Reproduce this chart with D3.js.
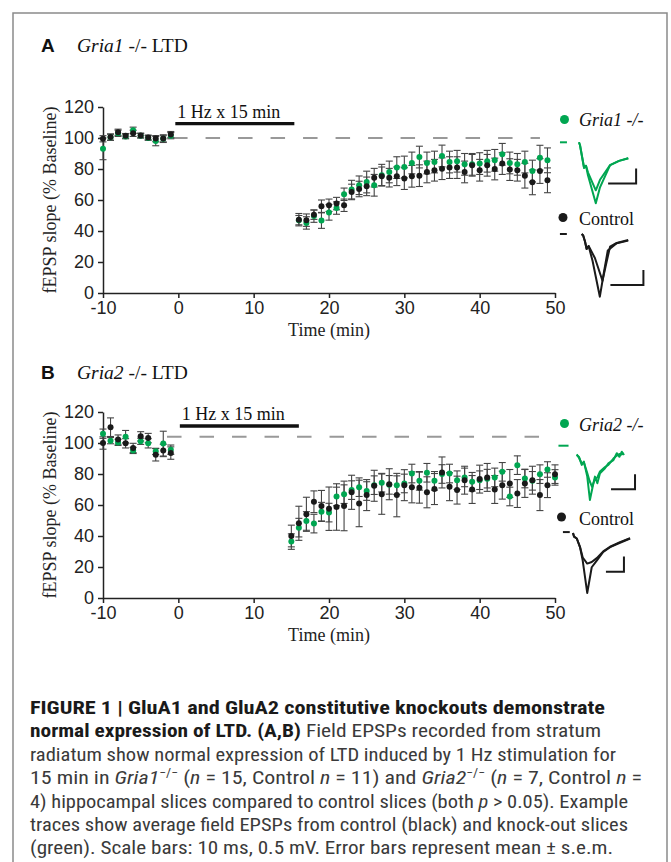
<!DOCTYPE html>
<html>
<head>
<meta charset="utf-8">
<script src="https://cdn.jsdelivr.net/npm/d3@7"></script>
<style>
body { margin: 0; background: #fff; }
svg { display: block; }
</style>
</head>
<body>
<svg id="fig" width="671" height="862"></svg>
<script>

// *** Data ***

var timesBase = [-10, -9, -8, -7, -6, -5, -4, -3, -2, -1];

// panel A (Gria1 -/-)
var ctrlBaseA = [99.5, 100.6, 103.7, 101.4, 103, 101.6, 100.4, 99.6, 99.6, 102.2];
var ctrlBaseSemA = [2, 2, 2, 1.5, 2, 1.5, 1.5, 2, 2.5, 2];
var koBaseA = [93, 100.5, 103, 101, 105, 101.5, 100, 98, 99.5, 101.5];
var koBaseSemA = [7, 2, 2, 1.5, 2, 1.5, 1.5, 3, 2, 2];

var timesPostA = [16, 17, 18, 19, 20, 21, 22, 23, 24, 25, 26, 27, 28, 29, 30, 31, 32,
                  33, 34, 35, 36, 37, 38, 39, 40, 41, 42, 43, 44, 45, 46, 47, 48, 49];
var ctrlPostA = [47.3, 47, 50.5, 56, 56.6, 57.7, 56.6, 65.2, 67.1, 68.8, 74.4, 75.3, 74.4, 75.3, 73.8, 75.3, 75.7,
                 78.1, 79.2, 80.2, 80.9, 80.9, 78.1, 82.4, 79.2, 82.4, 80, 83.5, 79.6, 79.2, 75.7, 71.4, 78.7, 72.7];
var ctrlPostSemA = [4, 4, 3, 4, 4, 4, 4, 5, 5, 6, 6, 6, 6, 6, 7, 7, 7,
                    7, 7, 7, 7, 7, 7, 7, 7, 7, 7, 7, 7, 7, 8, 8, 8, 8];
var koPostA = [47, 45.2, 49.6, 46.7, 52, 54.8, 63.7, 66.7, 69.5, 71.6, 69.5, 76, 78.1, 80.9, 81.3, 83.9, 87.7,
               83.9, 84.5, 88.4, 84.5, 85, 83, 83, 83.5, 85, 85.6, 89.5, 83.9, 83, 84.5, 78.7, 87.3, 85.6];
var koPostSemA = [3, 4, 4, 5, 5, 4, 4, 6, 6, 7, 7, 7, 7, 7, 7, 7, 7,
                  7, 7, 7, 7, 7, 7, 7, 7, 7, 7, 7, 7, 7, 7, 7, 8, 8];

// panel B (Gria2 -/-)
var ctrlBaseB = [100, 110.2, 102.2, 99.8, 96.8, 104.3, 103.2, 92.4, 95.2, 93.5];
var ctrlBaseSemB = [4, 6, 3, 3, 3, 3, 3, 4, 4, 4];
var koBaseB = [106, 101.5, 100.4, 104.1, 95.2, 101.1, 99.8, 94.6, 99.6, 95.7];
var koBaseSemB = [3, 2, 2, 4, 2, 2, 3, 2, 8, 3];

var timesPostB = [15, 16, 17, 18, 19, 20, 21, 22, 23, 24, 25, 26, 27, 28, 29, 30, 31, 32,
                  33, 34, 35, 36, 37, 38, 39, 40, 41, 42, 43, 44, 45, 46, 47, 48, 49, 50];
var ctrlPostB = [40, 48.2, 54, 62.1, 59.4, 57.6, 58.7, 59.4, 68.2, 61, 66.4, 72.4, 67, 73.4, 66.4, 72.8, 71.4, 71.2,
                 68.2, 70.3, 81, 71.8, 69.6, 76, 70, 76.7, 77.8, 70, 72.8, 73.9, 67.4, 73.9, 76, 66.4, 72.8, 79.9];
var ctrlPostSemB = [7, 11, 11, 7, 10, 14, 15, 16, 11, 15, 10, 10, 13, 10, 14, 10, 10, 10,
                    10, 10, 10, 9, 9, 9, 9, 9, 9, 9, 9, 9, 9, 9, 9, 10, 8, 6];
var koPostB = [36.4, 45.4, 49.7, 48, 55.7, 55.1, 65.5, 67, 69.6, 71.5, 69, 72.8, 74.4, 73, 72.8, 73.9, 80.3, 75.6,
               80.8, 75.6, 80, 80.3, 76, 77.8, 75, 76, 77, 77.8, 81.4, 65.5, 85.7, 77.1, 75.6, 79.9, 82.9, 77.8];
var koPostSemB = [5, 6, 6, 6, 6, 6, 6, 6, 6, 6, 6, 6, 6, 6, 6, 6, 6, 6,
                  6, 6, 6, 6, 6, 6, 6, 6, 6, 6, 6, 6, 6, 6, 6, 6, 5, 5];

var xTicks = [-10, 0, 10, 20, 30, 40, 50];
var yTicks = [0, 20, 40, 60, 80, 100, 120];

// stimulation bar (min) and baseline reference line (%)
var stimA = [-0.4, 15.4], stimB = [0.2, 16.0];
var refLineA = 100, refLineB = 104;
var refSpanA = [-0.7, 48], refSpanB = [-1.5, 48];

// example traces [ms, mV]
var gria1TracePre = [[0,0],[0.36,-0.1],[1.8,-0.85],[2.5,-0.78],[3.2,-1.1],[6.0,-2.03],[7.5,-1.5],[11.1,-0.76],[14.3,-0.62],[17.6,-0.53]];
var gria1TracePost = [[0,0],[0.36,-0.1],[1.8,-0.85],[2.5,-0.78],[3.2,-1.0],[6.0,-1.6],[7.5,-1.25],[11.1,-0.76],[14.3,-0.62],[17.6,-0.53]];
var ctrlATracePre = [[0,0],[0.45,-0.05],[1.0,-0.25],[1.5,-0.5],[2.1,-0.4],[3.3,-0.9],[5.5,-2.09],[6.7,-1.3],[7.9,-0.55],[10.6,-0.31],[14.1,-0.22]];
var ctrlATracePost = [[0,0],[0.45,-0.05],[1.0,-0.25],[1.5,-0.5],[2.1,-0.4],[4.0,-0.8],[6.3,-1.56],[7.4,-1.0],[8.6,-0.42],[10.6,-0.3],[14.1,-0.2]];
var gria2TracePre = [[0,0],[1,-0.07],[2.1,-0.33],[3,-0.22],[4.4,-0.72],[5.5,-1.5],[6.8,-1.0],[7.6,-0.72],[8.6,-0.94],[9.7,-0.61],
                     [11.8,-0.44],[13.2,-0.28],[15.3,-0.17],[16.7,0.06],[17.8,-0.06],[18.8,0.11],[19.7,0]];
var gria2TracePost = [[0,0.02],[1,-0.1],[2.1,-0.28],[3,-0.25],[4.4,-0.6],[5.3,-0.85],[6.4,-1.06],[7.6,-0.8],[8.6,-0.75],[9.7,-0.55],
                      [11.8,-0.4],[13.2,-0.33],[15.3,-0.12],[16.7,-0.02],[17.8,0.03],[18.8,0.02],[19.7,0.05]];
var ctrlBTracePre = [[0,0],[0.6,-0.12],[2.1,-0.18],[3.9,-0.46],[5.4,-0.9],[7.9,-1.96],[10.4,-1.12],[13.2,-0.9],[16.8,-0.62],[20.6,-0.46],[26.1,-0.32],[31.7,-0.18]];
var ctrlBTracePost = [[0,0],[0.6,-0.12],[2.1,-0.18],[3.9,-0.46],[5.4,-0.8],[7.9,-1.0],[10.4,-0.95],[13.2,-0.82],[16.8,-0.6],[20.6,-0.45],[26.1,-0.3],[31.7,-0.17]];

// *** Styles ***

var GREEN = "#00a651";
var BLACK = "#1a1a1a";
var SANS = "'Liberation Sans', Arial, sans-serif";
var SERIF = "'Liberation Serif', 'Times New Roman', serif";

var svg = d3.select("#fig");

svg.append("rect").attr("width", 671).attr("height", 862).attr("fill", "#fff");
svg.append("rect")
    .attr("x", 13).attr("y", 13).attr("width", 654).attr("height", 900)
    .attr("fill", "none").attr("stroke", "#8a8a8a").attr("stroke-width", 1.5);

// *** Helpers ***

function make_points(times, values, sems) {
  return times.map(function (t, i) { return {t: t, v: values[i], s: sems[i]}; });
}

function draw_errorbars(g, x, y, pts) {
  var eb = g.append("g").attr("stroke", "#444").attr("stroke-width", 1.1);
  pts.forEach(function (d) {
    var cx = x(d.t);
    eb.append("line").attr("x1", cx).attr("x2", cx).attr("y1", y(d.v - d.s)).attr("y2", y(d.v + d.s));
    eb.append("line").attr("x1", cx - 3.5).attr("x2", cx + 3.5).attr("y1", y(d.v - d.s)).attr("y2", y(d.v - d.s));
    eb.append("line").attr("x1", cx - 3.5).attr("x2", cx + 3.5).attr("y1", y(d.v + d.s)).attr("y2", y(d.v + d.s));
  });
}

function draw_dots(g, x, y, pts, color) {
  g.append("g").selectAll("circle").data(pts).enter().append("circle")
      .attr("cx", d => x(d.t)).attr("cy", d => y(d.v))
      .attr("r", 3).attr("fill", color);
}

function draw_inset(g, inset) {
  var tx = d3.scaleLinear().domain([0, 10]).range([inset.x0, inset.x0 + 10 * inset.pxPerMs]);
  var ty = d3.scaleLinear().domain([0, -1]).range([inset.y0, inset.y0 + inset.pxPerMv]);
  var line = d3.line().x(d => tx(d[0])).y(d => ty(d[1]));
  [inset.pre, inset.post].forEach(function (tr) {
    g.append("path").attr("d", line(tr)).attr("fill", "none")
        .attr("stroke", inset.color).attr("stroke-width", 2).attr("stroke-linejoin", "round");
  });
  // stimulus artifact stub
  g.append("path").attr("d", line(inset.stub)).attr("stroke", inset.color).attr("stroke-width", 2);
  // scale bar: 10 ms, 0.5 mV
  var c = inset.bar;
  g.append("path")
      .attr("d", line([[c[0] - 10, c[1]], [c[0], c[1]], [c[0], c[1] + 0.5]]))
      .attr("fill", "none").attr("stroke", BLACK).attr("stroke-width", 2);
}

// *** Panel ***

function draw_panel(p) {
  var g = svg.append("g");
  var x = d3.scaleLinear().domain([-10, 50]).range([103, 555]);
  var y = d3.scaleLinear().domain([0, 120]).range([p.axisY, p.axisY - 186]);

  // title
  var title = g.append("text").attr("y", p.titleY).attr("font-size", 19.5).attr("fill", "#111");
  title.append("tspan").attr("x", 41).attr("font-family", SANS).attr("font-weight", "bold").attr("font-size", 19).text(p.letter);
  title.append("tspan").attr("x", 77).attr("font-family", SERIF).attr("font-style", "italic").text(p.gene);
  title.append("tspan").attr("font-family", SERIF).text(" -/- LTD");

  // axes
  var yAxis = d3.axisLeft(y).tickValues(yTicks).tickSize(5).tickSizeOuter(0).tickPadding(4).tickFormat(d => String(d));
  var xAxis = d3.axisBottom(x).tickValues(xTicks).tickSize(5).tickSizeOuter(0).tickPadding(3).tickFormat(d => String(d));
  var ya = g.append("g").attr("transform", "translate(" + x(-10) + ",0)").call(yAxis);
  var xa = g.append("g").attr("transform", "translate(0," + p.axisY + ")").call(xAxis);
  [ya, xa].forEach(function (a) {
    a.selectAll("path, line").attr("stroke", "#222").attr("stroke-width", 1.5);
    a.selectAll("text").attr("font-family", SANS).attr("font-size", 18).attr("fill", "#222");
  });

  g.append("text")
      .attr("transform", "translate(56," + ((y(0) + y(120)) / 2) + ") rotate(-90)")
      .attr("text-anchor", "middle").attr("font-family", SERIF).attr("font-size", 18).attr("fill", "#222")
      .text("fEPSP slope (% Baseline)");
  g.append("text")
      .attr("x", x(20)).attr("y", p.axisY + 43)
      .attr("text-anchor", "middle").attr("font-family", SERIF).attr("font-size", 18).attr("fill", "#222")
      .text("Time (min)");

  // baseline reference + stim bar
  g.append("line")
      .attr("x1", x(p.refSpan[0])).attr("x2", x(p.refSpan[1]))
      .attr("y1", y(p.ref)).attr("y2", y(p.ref))
      .attr("stroke", "#999").attr("stroke-width", 2).attr("stroke-dasharray", "14.5,18");
  var barY = y(p.stimLevel);
  g.append("line")
      .attr("x1", x(p.stim[0])).attr("x2", x(p.stim[1]))
      .attr("y1", barY).attr("y2", barY)
      .attr("stroke", "#111").attr("stroke-width", 3.4);
  g.append("text")
      .attr("x", x(p.stim[0]) + 2).attr("y", barY - 6)
      .attr("font-family", SERIF).attr("font-size", 18).attr("fill", "#111")
      .text("1 Hz x 15 min");

  // data
  var ctrl = make_points(timesBase, p.ctrlBase, p.ctrlBaseSem).concat(make_points(p.timesPost, p.ctrlPost, p.ctrlPostSem));
  var ko = make_points(timesBase, p.koBase, p.koBaseSem).concat(make_points(p.timesPost, p.koPost, p.koPostSem));
  draw_errorbars(g, x, y, ko);
  draw_errorbars(g, x, y, ctrl);
  draw_dots(g, x, y, ko, GREEN);
  draw_dots(g, x, y, ctrl, BLACK);

  // legend
  p.legend.forEach(function (l) {
    g.append("circle").attr("cx", l.cx).attr("cy", l.cy).attr("r", 4.5).attr("fill", l.color);
    g.append("text").attr("x", 579).attr("y", l.ty)
        .attr("font-family", SERIF).attr("font-size", 18).attr("fill", "#111")
        .attr("font-style", l.italic ? "italic" : "normal")
        .text(l.label);
  });

  p.insets.forEach(function (inset) { draw_inset(g, inset); });
}

draw_panel({
  letter: "A", gene: "Gria1", titleY: 52, axisY: 293,
  ref: refLineA, refSpan: refSpanA, stim: stimA, stimLevel: 109.3,
  ctrlBase: ctrlBaseA, ctrlBaseSem: ctrlBaseSemA, koBase: koBaseA, koBaseSem: koBaseSemA,
  timesPost: timesPostA, ctrlPost: ctrlPostA, ctrlPostSem: ctrlPostSemA, koPost: koPostA, koPostSem: koPostSemA,
  legend: [
    {cx: 564.5, cy: 119.5, ty: 126, color: GREEN, label: "Gria1 -/-", italic: true},
    {cx: 563, cy: 217.5, ty: 225, color: BLACK, label: "Control", italic: false}
  ],
  insets: [
    {x0: 579, y0: 142.3, pxPerMs: 2.8, pxPerMv: 30, color: GREEN, pre: gria1TracePre, post: gria1TracePost,
     stub: [[-6.8, 0], [-4.3, 0]], bar: [20.4, -1.37]},
    {x0: 581.7, y0: 234, pxPerMs: 3.3, pxPerMv: 30, color: BLACK, pre: ctrlATracePre, post: ctrlATracePost,
     stub: [[-6.6, 0], [-4.5, 0]], bar: [18.7, -1.7]}
  ]
});

draw_panel({
  letter: "B", gene: "Gria2", titleY: 378.5, axisY: 598,
  ref: refLineB, refSpan: refSpanB, stim: stimB, stimLevel: 111,
  ctrlBase: ctrlBaseB, ctrlBaseSem: ctrlBaseSemB, koBase: koBaseB, koBaseSem: koBaseSemB,
  timesPost: timesPostB, ctrlPost: ctrlPostB, ctrlPostSem: ctrlPostSemB, koPost: koPostB, koPostSem: koPostSemB,
  legend: [
    {cx: 564.5, cy: 423.5, ty: 431, color: GREEN, label: "Gria2 -/-", italic: true},
    {cx: 561.5, cy: 517, ty: 525, color: BLACK, label: "Control", italic: false}
  ],
  insets: [
    {x0: 576.7, y0: 455, pxPerMs: 2.4, pxPerMv: 30, color: GREEN, pre: gria2TracePre, post: gria2TracePost,
     stub: [[-7.6, 0.31], [-3.4, 0.31]], bar: [24.3, -1.14]},
    {x0: 573, y0: 533, pxPerMs: 1.8, pxPerMv: 30.6, color: BLACK, pre: ctrlBTracePre, post: ctrlBTracePost,
     stub: [[-5.6, 0.03], [-1.8, 0.03]], bar: [28.3, -1.27]}
  ]
});

// *** Caption ***

var captionLines = [
  [["FIGURE 1 | GluA1 and GluA2 constitutive knockouts demonstrate", "b"]],
  [["normal expression of LTD. (A,B)", "b"], [" Field EPSPs recorded from stratum", ""]],
  [["radiatum show normal expression of LTD induced by 1 Hz stimulation for", ""]],
  [["15 min in ", ""], ["Gria1", "i"], ["\u2212/\u2212", "sup"], [" (", ""], ["n", "i"], [" = 15, Control ", ""], ["n", "i"],
   [" = 11) and ", ""], ["Gria2", "i"], ["\u2212/\u2212", "sup"], [" (", ""], ["n", "i"], [" = 7, Control ", ""], ["n", "i"], [" =", ""]],
  [["4) hippocampal slices compared to control slices (both ", ""], ["p", "i"], [" > 0.05). Example", ""]],
  [["traces show average field EPSPs from control (black) and knock-out slices", ""]],
  [["(green). Scale bars: 10 ms, 0.5 mV. Error bars represent mean \u00b1 s.e.m.", ""]]
];
var captionEnds = [605, 601, 616, 642, 628, 628, 613];

var CAPTION_FONT = "'Liberation Sans Narrow', 'Roboto Condensed', 'DejaVu Sans Condensed', 'Liberation Sans', sans-serif";
captionLines.forEach(function (segs, i) {
  var t = svg.append("text")
      .attr("x", 30).attr("y", 714 + i * 23.4)
      .attr("font-family", CAPTION_FONT).attr("font-size", 19).attr("fill", "#3a3a3a")
      .attr("textLength", captionEnds[i] - 30).attr("lengthAdjust", "spacingAndGlyphs");
  var raised = false;
  segs.forEach(function (s) {
    var sp = t.append("tspan").text(s[0]);
    if (s[1] === "b") sp.attr("font-weight", "bold").attr("fill", "#1a1a1a");
    if (s[1] === "i") sp.attr("font-style", "italic");
    if (s[1] === "sup") { sp.attr("font-size", 12).attr("dy", -7); raised = true; }
    else if (raised) { sp.attr("dy", 7); raised = false; }
  });
});

</script>
</body>
</html>
